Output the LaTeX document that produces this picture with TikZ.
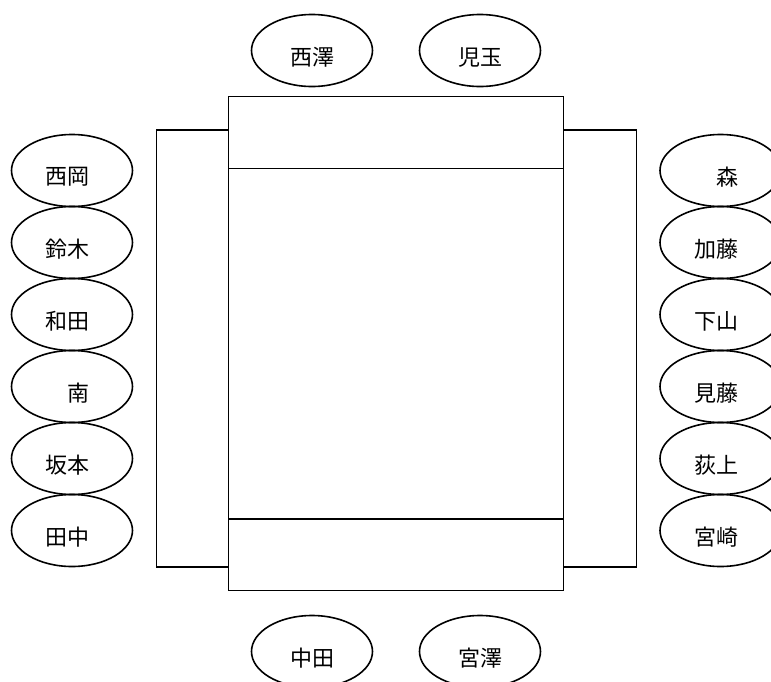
\documentclass[tikz,border=0pt]{standalone}
\usepackage{fontspec}
\usetikzlibrary{shapes.geometric}
\newfontfamily\jpfont{Noto Sans CJK JP}
\begin{document}
\begin{tikzpicture}[x=1pt,y=-1pt,
  seat/.style={draw=black,line width=1.6pt,ellipse,minimum width=121pt,minimum height=72pt,inner sep=0pt},
  nm/.style={font=\jpfont\fontsize{22}{22}\selectfont,inner sep=0pt},
  tbl/.style={draw=black,line width=1.6pt}]
\useasboundingbox (0,0) rectangle (771,681);
\begin{scope}
\clip (0,0) rectangle (771,681);
% side tables
\draw[tbl] (156.5,130) rectangle (228.5,567);
\draw[tbl] (563.5,130) rectangle (636.5,567);
% central table
\draw[tbl,fill=white] (228.5,96.5) rectangle (563.5,590.5);
\draw[tbl] (228.5,168.5) -- (563.5,168.5);
\draw[tbl] (228.5,519) -- (563.5,519);
% seats
\foreach \n/\x/\y in {a/312/50.5,b/480/50.5,c/312/651.5,d/480/651.5,
  l1/72/170.5,l2/72/242.5,l3/72/314.5,l4/72/386.5,l5/72/458.5,l6/72/530.5,
  r1/720.5/170.5,r2/720.5/242.5,r3/720.5/314.5,r4/720.5/386.5,r5/720.5/458.5,r6/720.5/530.5}
  \node[seat] (\n) at (\x,\y) {};
\end{scope}
% names
\node[nm] (ta) at ([yshift=-6.5pt]a.center) {西澤};
\node[nm] (tb) at ([yshift=-6.5pt]b.center) {児玉};
\node[nm] (tc) at ([yshift=-6.5pt]c.center) {中田};
\node[nm] (td) at ([yshift=-6.5pt]d.center) {宮澤};
\node[nm] (tl1) at ([xshift=-4.5pt,yshift=-6.5pt]l1.center) {西岡};
\node[nm] (tl2) at ([xshift=-4.5pt,yshift=-6.5pt]l2.center) {鈴木};
\node[nm] (tl3) at ([xshift=-4.5pt,yshift=-6.5pt]l3.center) {和田};
\node[nm] (tl4) at ([xshift=6pt,yshift=-6.5pt]l4.center) {南};
\node[nm] (tl5) at ([xshift=-4.5pt,yshift=-6.5pt]l5.center) {坂本};
\node[nm] (tl6) at ([xshift=-4.5pt,yshift=-6.5pt]l6.center) {田中};
\node[nm] (tr1) at ([xshift=7pt,yshift=-6.5pt]r1.center) {森};
\node[nm] (tr2) at ([xshift=-4.5pt,yshift=-6.5pt]r2.center) {加藤};
\node[nm] (tr3) at ([xshift=-4.5pt,yshift=-6.5pt]r3.center) {下山};
\node[nm] (tr4) at ([xshift=-4.5pt,yshift=-6.5pt]r4.center) {見藤};
\node[nm] (tr5) at ([xshift=-4.5pt,yshift=-6.5pt]r5.center) {荻上};
\node[nm] (tr6) at ([xshift=-4.5pt,yshift=-6.5pt]r6.center) {宮崎};
\end{tikzpicture}
\end{document}
